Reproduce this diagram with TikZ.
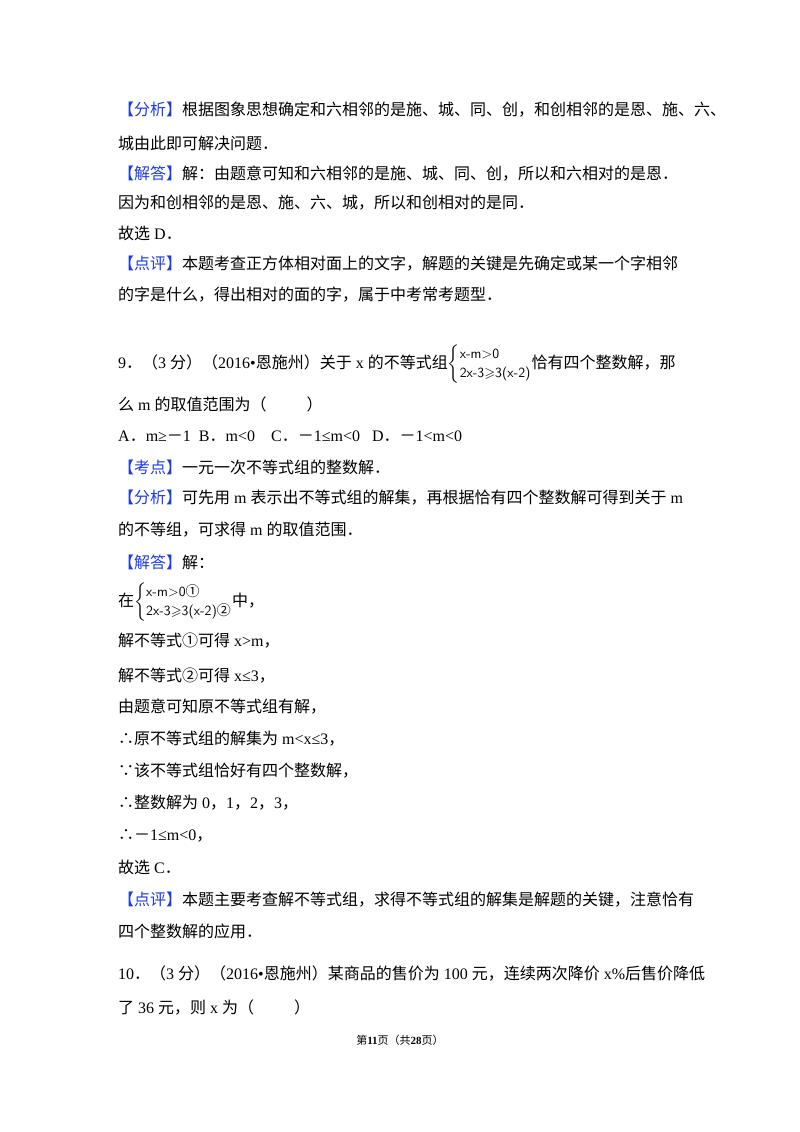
\documentclass[tikz,border=0pt]{standalone}
\usepackage{amssymb}
\usepackage{fontspec}
\setmainfont{Liberation Serif}
\newfontfamily\cjk{Noto Sans CJK SC}
\newfontfamily\latn{Liberation Serif}
\XeTeXinterchartokenstate=1
\newXeTeXintercharclass\cjkclass
\count255="4E00
\loop\XeTeXcharclass\count255=\cjkclass\ifnum\count255<"9FFF\advance\count255 1\repeat
\count255="3000
\loop\XeTeXcharclass\count255=\cjkclass\ifnum\count255<"303F\advance\count255 1\repeat
\count255="FF00
\loop\XeTeXcharclass\count255=\cjkclass\ifnum\count255<"FFEF\advance\count255 1\repeat
\XeTeXcharclass"2234=\cjkclass \XeTeXcharclass"2235=\cjkclass
\XeTeXcharclass"2460=\cjkclass \XeTeXcharclass"2461=\cjkclass
\XeTeXinterchartoks 0 \cjkclass={\cjk}
\XeTeXinterchartoks 4095 \cjkclass={\cjk}
\XeTeXinterchartoks \cjkclass 0={\latn}
\XeTeXinterchartoks \cjkclass 4095={\latn}
\definecolor{blu}{RGB}{30,60,230}
\newcommand{\tag}[1]{\textcolor{blu}{【#1】}}
\newcommand{\sys}[2]{$\left\{\begin{array}{@{}l@{}}\mbox{\fontsize{14}{15}\selectfont\sffamily #1}\\[1pt]\mbox{\fontsize{14}{15}\selectfont\sffamily #2}\end{array}\right.$}
\newcommand{\gs}{$\geqslant$}
\begin{document}
\begin{tikzpicture}[x=1pt,y=-1pt,every node/.style={anchor=west,inner sep=0pt,font=\fontsize{16}{18}\selectfont}]
\useasboundingbox[fill=white] (0,0) rectangle (800,1132);
\node (l1) at (118,110) {\tag{分析}根据图象思想确定和六相邻的是施、城、同、创，和创相邻的是恩、施、六、};
\node (l2) at (118,143) {城由此即可解决问题．};
\node (l3) at (118,174) {\tag{解答}解：由题意可知和六相邻的是施、城、同、创，所以和六相对的是恩．};
\node (l4) at (118,203) {因为和创相邻的是恩、施、六、城，所以和创相对的是同．};
\node (l5) at (118,233) {故选 D．};
\node (l6) at (118,264) {\tag{点评}本题考查正方体相对面上的文字，解题的关键是先确定或某一个字相邻};
\node (l7) at (118,295) {的字是什么，得出相对的面的字，属于中考常考题型．};
\node (l8) at (118,364) {9．（3 分）（2016•恩施州）关于 x 的不等式组\sys{x-m$>$0}{2x-3\gs3(x-2)}恰有四个整数解，那};
\node (l9) at (118,404) {么 m 的取值范围为（\hspace{2.5em}）};
\node (l10) at (118,436) {A．m≥－1\ \ B．m<0\ \ \ \ C．－1≤m<0\ \ \ D．－1<m<0};
\node (l11) at (118,467) {\tag{考点}一元一次不等式组的整数解．};
\node (l12) at (118,498) {\tag{分析}可先用 m 表示出不等式组的解集，再根据恰有四个整数解可得到关于 m};
\node (l13) at (118,530) {的不等组，可求得 m 的取值范围．};
\node (l14) at (118,562) {\tag{解答}解：};
\node (l15) at (118,602) {在\sys{x-m$>$0①}{2x-3\gs3(x-2)②}中，};
\node (l16) at (118,641) {解不等式①可得 x>m，};
\node (l17) at (118,676) {解不等式②可得 x≤3，};
\node (l18) at (118,707) {由题意可知原不等式组有解，};
\node (l19) at (118,739) {∴原不等式组的解集为 m<x≤3，};
\node (l20) at (118,771) {∵该不等式组恰好有四个整数解，};
\node (l21) at (118,803) {∴整数解为 0，1，2，3，};
\node (l22) at (118,836) {∴－1≤m<0，};
\node (l23) at (118,867) {故选 C．};
\node (l24) at (118,900) {\tag{点评}本题主要考查解不等式组，求得不等式组的解集是解题的关键，注意恰有};
\node (l25) at (118,931) {四个整数解的应用．};
\node (l26) at (118,973) {10．（3 分）（2016•恩施州）某商品的售价为 100 元，连续两次降价 x\%后售价降低};
\node (l27) at (118,1007) {了 36 元，则 x 为（\hspace{2.5em}）};
\node[anchor=center,font=\fontsize{11}{12}\selectfont] (ft) at (400,1040) {第\textbf{11}页（共\textbf{28}页）};
\end{tikzpicture}
\end{document}
